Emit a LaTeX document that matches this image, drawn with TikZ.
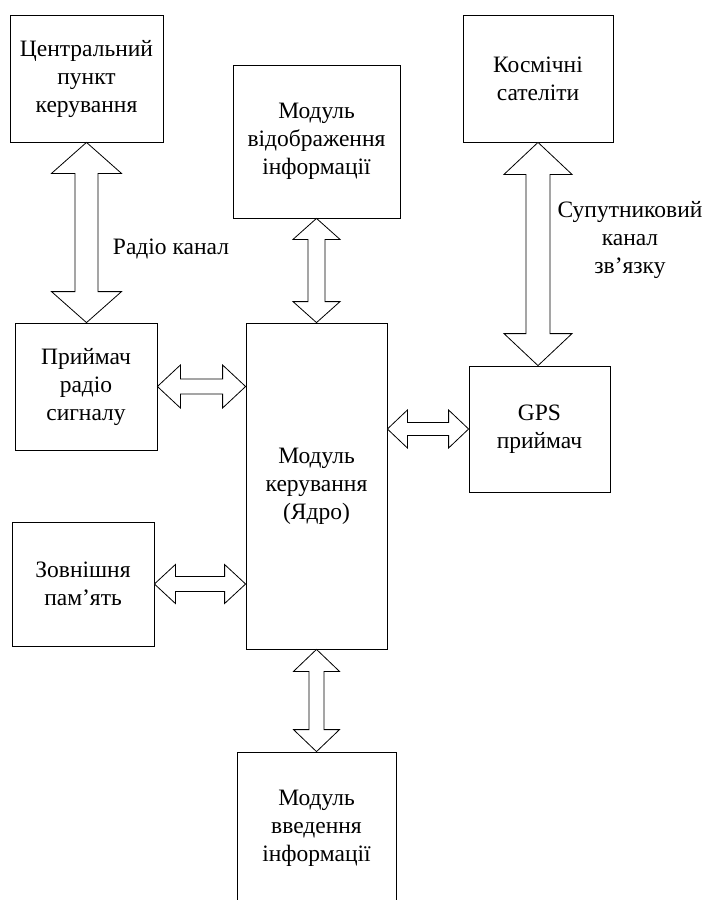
\documentclass[tikz,border=0pt]{standalone}
\usepackage{fontspec}
\setmainfont{Liberation Serif}
\usepackage{tikz}
\usetikzlibrary{calc}

% hollow two-way block arrows: from, to, shaft half width, head half width, head length
\newcommand{\vtwoway}[5]{%
  \draw[blockarrow] let \p1=#1, \p2=#2 in
    (\p1) -- (\x1+#4pt,\y1-#5pt) -- (\x1+#3pt,\y1-#5pt) -- (\x1+#3pt,\y2+#5pt)
    -- (\x1+#4pt,\y2+#5pt) -- (\x1,\y2) -- (\x1-#4pt,\y2+#5pt) -- (\x1-#3pt,\y2+#5pt)
    -- (\x1-#3pt,\y1-#5pt) -- (\x1-#4pt,\y1-#5pt) -- cycle;}
\newcommand{\htwoway}[5]{%
  \draw[blockarrow] let \p1=#1, \p2=#2 in
    (\p1) -- (\x1+#5pt,\y1+#4pt) -- (\x1+#5pt,\y1+#3pt) -- (\x2-#5pt,\y1+#3pt)
    -- (\x2-#5pt,\y1+#4pt) -- (\x2,\y1) -- (\x2-#5pt,\y1-#4pt) -- (\x2-#5pt,\y1-#3pt)
    -- (\x1+#5pt,\y1-#3pt) -- (\x1+#5pt,\y1-#4pt) -- cycle;}

\tikzset{
  block/.style={draw, line width=0.8pt, align=center, inner sep=0pt,
    font=\fontsize{23.5}{28}\selectfont},
  blockarrow/.style={draw, line width=0.8pt, fill=white, line join=miter},
  lbl/.style={align=center, inner sep=0pt, font=\fontsize{23.5}{28}\selectfont}
}

\begin{document}
\begin{tikzpicture}[x=1pt, y=-1pt]
  \useasboundingbox (0,0) rectangle (719,900);
  \clip (0,0) rectangle (719,900);

  % blocks
  \node[block, minimum width=153pt, minimum height=127pt] (centre) at (86.5,78.5)
    {Центральний\\пункт\\керування};
  \node[block, minimum width=167pt, minimum height=153pt] (disp) at (316.5,141.5)
    {Модуль\\відображення\\інформації};
  \node[block, minimum width=150pt, minimum height=127pt] (sat) at (538,78.5)
    {Космічні\\сателіти};
  \node[block, minimum width=142pt, minimum height=127pt] (rx) at (86,386.5)
    {Приймач\\радіо\\сигналу};
  \node[block, minimum width=141pt, minimum height=326pt] (core) at (316.5,486)
    {Модуль\\керування\\(Ядро)};
  \node[block, minimum width=141pt, minimum height=126pt] (gps) at (539.5,429)
    {GPS\\приймач};
  \node[block, minimum width=142pt, minimum height=124pt] (mem) at (83,584)
    {Зовнішня\\пам’ять};
  \node[block, minimum width=159pt, minimum height=152pt] (inp) at (316.5,828)
    {Модуль\\введення\\інформації};

  % labels
  \node[lbl] (radiolbl) at (171,249) {Радіо канал};
  \node[lbl] (satlbl) at (630,240) {Супутниковий\\канал\\зв’язку};

  % links
  \vtwoway{(centre.south)}{(centre.south |- rx.north)}{11.5}{35}{31}
  \vtwoway{(disp.south)}{(disp.south |- core.north)}{8.5}{23.5}{21}
  \vtwoway{(sat.south)}{(sat.south |- gps.north)}{12}{34}{32}
  \htwoway{(rx.east)}{(rx.east -| core.west)}{7.5}{21.5}{23}
  \htwoway{(core.east |- gps.west)}{(gps.west)}{6.5}{19}{20}
  \htwoway{(mem.east)}{(mem.east -| core.west)}{7.5}{19.5}{21}
  \vtwoway{(core.south)}{(core.south |- inp.north)}{7.5}{23}{22}
\end{tikzpicture}
\end{document}
